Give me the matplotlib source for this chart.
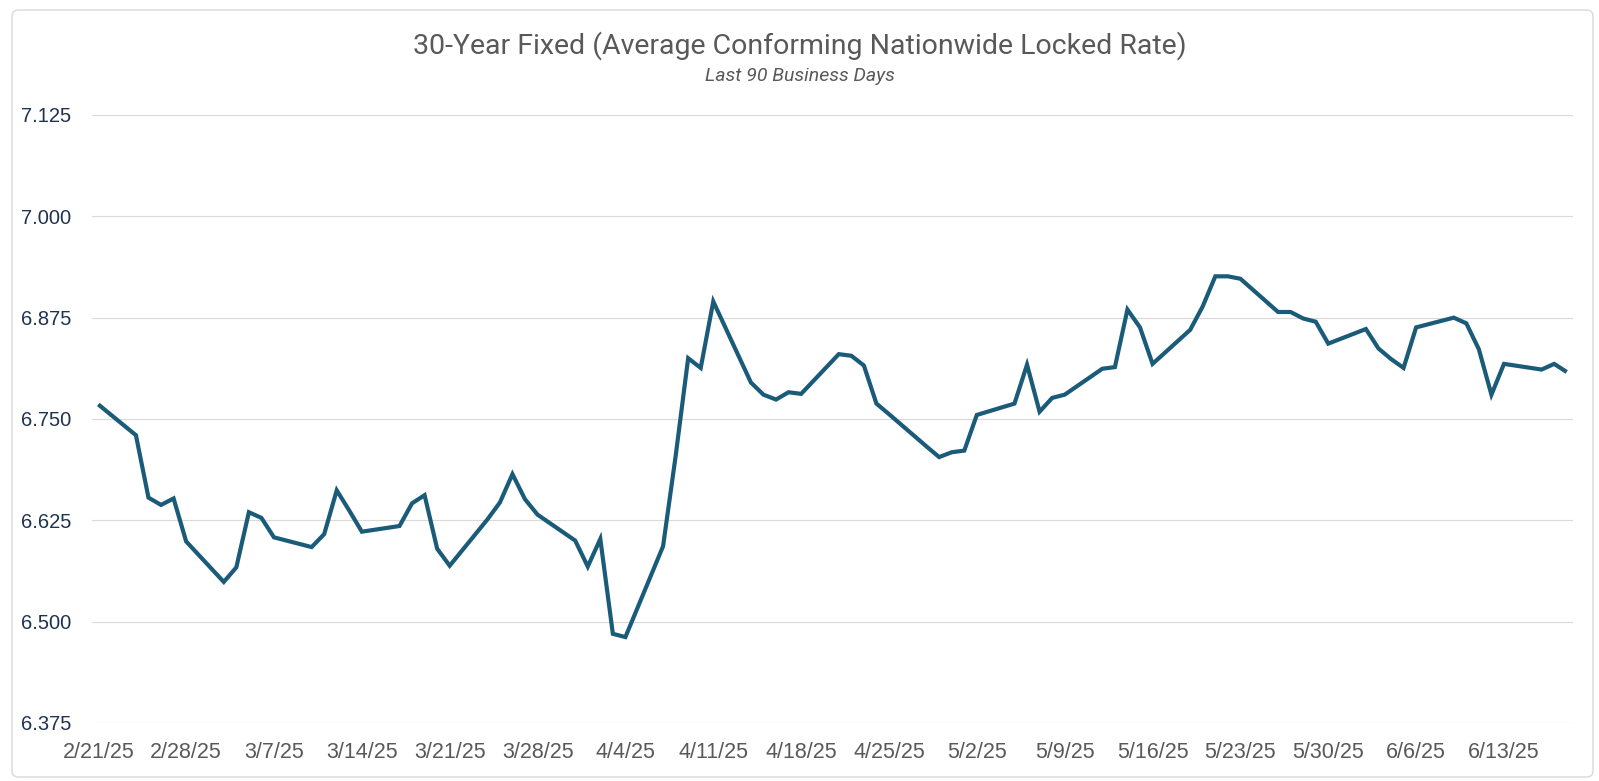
import numpy as np
import pandas as pd
import matplotlib
matplotlib.use("Agg")
import matplotlib.pyplot as plt
from matplotlib.patches import FancyBboxPatch


#################
# Data
#################

dates = [
    "2025-02-21", "2025-02-24", "2025-02-25", "2025-02-26", "2025-02-27", "2025-02-28",
    "2025-03-03", "2025-03-04", "2025-03-05", "2025-03-06", "2025-03-07",
    "2025-03-10", "2025-03-11", "2025-03-12", "2025-03-13", "2025-03-14",
    "2025-03-17", "2025-03-18", "2025-03-19", "2025-03-20", "2025-03-21",
    "2025-03-24", "2025-03-25", "2025-03-26", "2025-03-27", "2025-03-28",
    "2025-03-31", "2025-04-01", "2025-04-02", "2025-04-03", "2025-04-04",
    "2025-04-07", "2025-04-08", "2025-04-09", "2025-04-10", "2025-04-11",
    "2025-04-14", "2025-04-15", "2025-04-16", "2025-04-17", "2025-04-18",
    "2025-04-21", "2025-04-22", "2025-04-23", "2025-04-24", "2025-04-25",
    "2025-04-28", "2025-04-29", "2025-04-30", "2025-05-01", "2025-05-02",
    "2025-05-05", "2025-05-06", "2025-05-07", "2025-05-08", "2025-05-09",
    "2025-05-12", "2025-05-13", "2025-05-14", "2025-05-15", "2025-05-16",
    "2025-05-19", "2025-05-20", "2025-05-21", "2025-05-22", "2025-05-23",
    "2025-05-26", "2025-05-27", "2025-05-28", "2025-05-29", "2025-05-30",
    "2025-06-02", "2025-06-03", "2025-06-04", "2025-06-05", "2025-06-06",
    "2025-06-09", "2025-06-10", "2025-06-11", "2025-06-12", "2025-06-13",
    "2025-06-16", "2025-06-17", "2025-06-18",
]

rates = [
    6.768, 6.730, 6.653, 6.644, 6.652, 6.599,
    6.549, 6.567, 6.635, 6.628, 6.604,
    6.592, 6.608, 6.662, 6.637, 6.611,
    6.618, 6.646, 6.656, 6.590, 6.569,
    6.626, 6.647, 6.682, 6.651, 6.632,
    6.600, 6.568, 6.602, 6.485, 6.481,
    6.593, 6.704, 6.825, 6.813, 6.895,
    6.795, 6.780, 6.774, 6.783, 6.781,
    6.830, 6.828, 6.816, 6.769, 6.756,
    6.716, 6.703, 6.709, 6.711, 6.755,
    6.769, 6.817, 6.759, 6.776, 6.780,
    6.812, 6.814, 6.885, 6.863, 6.818,
    6.860, 6.889, 6.926, 6.926, 6.923,
    6.882, 6.882, 6.874, 6.870, 6.843,
    6.861, 6.837, 6.824, 6.813, 6.863,
    6.875, 6.868, 6.836, 6.780, 6.818,
    6.811, 6.818, 6.808,
]

y_ticks = [6.375, 6.500, 6.625, 6.750, 6.875, 7.000, 7.125]

title = "30-Year Fixed (Average Conforming Nationwide Locked Rate)"
subtitle = "Last 90 Business Days"

line_color = "#1b5b7a"
grid_color = "#d9d9d9"
text_gray = "#595959"
ylab_color = "#1f3350"

narrow = ["Liberation Sans Narrow", "Roboto", "DejaVu Sans"]
plain = ["Liberation Sans", "DejaVu Sans"]

x = pd.to_datetime(dates)

# Start of plotting
W, H = 1599, 781
fig = plt.figure(figsize=(W / 100, H / 100), dpi=100)

# outer chart border (light gray, rounded), kept behind the axes
border = FancyBboxPatch((12 / W, 4 / H), (1593 - 12) / W, (777 - 10) / H,
                        boxstyle="round,pad=0,rounding_size=0.004",
                        mutation_aspect=W / H,
                        transform=fig.transFigure, facecolor="none",
                        edgecolor=grid_color, linewidth=1.0, zorder=-5)
fig.patches.append(border)

# plot area: left 92px, right 1573px, top 115px, bottom 723px
ax = fig.add_axes([92 / W, (H - 723) / H, (1573 - 92) / W, (723 - 115) / H])
ax.set_facecolor("none")

ax.plot(x, rates, color=line_color, linewidth=3.0,
        solid_joinstyle="miter", solid_capstyle="butt", zorder=3)

ax.set_ylim(y_ticks[0], y_ticks[-1])
ax.set_yticks(y_ticks)
ax.set_yticklabels([f"{v:.3f}" for v in y_ticks], family=plain,
                   fontsize=14.5, color=ylab_color)

half = pd.Timedelta(hours=12)
ax.set_xlim(x[0] - half, x[-1] + half)
x_ticks = pd.date_range(x[0], x[-1], freq="7D")
ax.set_xticks(x_ticks)
ax.set_xticklabels([f"{d.month}/{d.day}/{d:%y}" for d in x_ticks],
                   family=plain, fontsize=15.5, color=text_gray)

ax.grid(axis="y", color=grid_color, linewidth=0.8, zorder=0)
ax.tick_params(axis="both", length=0)
ax.tick_params(axis="y", pad=15)
ax.tick_params(axis="x", pad=14)
for s in ax.spines.values():
    s.set_visible(False)

fig.text(0.5, 1 - 46 / H, title, ha="center", va="center",
         family=narrow, fontsize=20.5, color=text_gray)
fig.text(0.5, 1 - 76 / H, subtitle, ha="center", va="center",
         family=narrow, style="italic", fontsize=14, color=text_gray)

fig.savefig("out.png", dpi=100)
